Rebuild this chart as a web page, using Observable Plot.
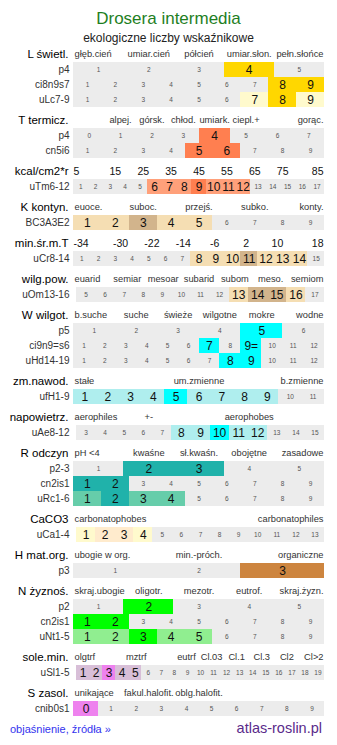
<!DOCTYPE html>
<html><head><meta charset="utf-8">
<script src="https://cdn.jsdelivr.net/npm/d3@7"></script>
<script src="https://cdn.jsdelivr.net/npm/@observablehq/plot@0.6"></script>
<style>
body{margin:0;background:#fff;font-family:"Liberation Sans",Arial,sans-serif;}
#wrap{position:relative;width:337px;height:745px;overflow:hidden;}
#title{position:absolute;left:0;top:7px;width:337px;text-align:center;font-size:17px;line-height:24px;color:#1f7f1f;}
#sub{position:absolute;left:0;top:30px;width:337px;text-align:center;font-size:12px;line-height:16px;color:#222;}
#chart{position:absolute;left:0;top:40px;}
#link{position:absolute;left:10px;top:721px;font-size:11px;line-height:16px;color:#3333ee;}
#site{position:absolute;right:15px;top:718px;font-size:14.5px;line-height:20px;color:#5a2a8a;}
</style></head>
<body><div id="wrap">
<div id="title">Drosera intermedia</div>
<div id="sub">ekologiczne liczby wskaźnikowe</div>
<div id="chart"></div>
<div id="link">objaśnienie, źródła »</div>
<div id="site">atlas-roslin.pl</div>
</div>
<script>
// ---- data ----
const sectionTitles = ["L świetl.", "T termicz.", "kcal/cm2*r", "K kontyn.", "min.śr.m.T", "wilg.pow.",
  "W wilgot.", "zm.nawod.", "napowietrz.", "R odczyn", "CaCO3", "H mat.org.", "N żyznoś.", "sole.min.", "S zasol."];
const sectionScales = [
  ["głęb.cień","umiar.cień","półcień","umiar.słon.","pełn.słońce"],
  ["","alpej.","górsk.","chłod.","umiark.","ciepl.+","","gorąc."],
  ["5","15","25","35","45","55","65","75","85"],
  ["euoce.","","suboc.","","przejś.","","subko.","","konty."],
  ["-34","-30","-22","-14","-6","2","10","18"],
  ["euarid","semiar","mesoar","subarid","subom","meso.","semiom"],
  ["b.suche","suche","świeże","wilgotne","mokre","wodne"],
  ["stałe","","um.zmienne","","b.zmienne"],
  ["aerophiles","+-","","aerophobes",""],
  ["pH <4","kwaśne","sł.kwaśn.","obojętne","zasadowe"],
  ["carbonatophobes","carbonatophiles"],
  ["ubogie w org.","min.-próch.","organiczne"],
  ["skraj.ubogie","oligotr.","mezotr.","eutrof.","skraj.żyzn."],
  ["olgtrf","","mztrf","","eutrf","Cl.03","Cl.1","Cl.3","Cl2","Cl>2"],
  ["unikające","fakul.halofit.","oblg.halofit.","",""]
];
const numericScaleSections = [2, 4];

const rowNames   = ["p4","ci8n9s7","uLc7-9", "p4","cn5i6", "uTm6-12", "BC3A3E2", "uCr8-14", "uOm13-16",
  "p5","ci9n9=s6","uHd14-19", "ufH1-9", "uAe8-12", "p2-3","cn2is1","uRc1-6", "uCa1-4", "p3",
  "p2","cn2is1","uNt1-5", "uSl1-5", "cnib0s1"];
const rowSection = [0,0,0, 1,1, 2, 3, 4, 5, 6,6,6, 7, 8, 9,9,9, 10, 11, 12,12,12, 13, 14];
const rowFirst   = [1,1,1, 0,1, 1, 1, 1, 5, 1,1,1, 1, 3, 1,1,1, 1, 1, 1,1,1, 1, 0];
const rowLast    = [5,9,9, 7,9, 17, 9, 15, 17, 6,12,12, 11, 15, 5,9,9, 13, 3, 5,9,9, 19, 9];
const rowStrong  = [[4],[8,9],[8], [4],[5,6], [9], [3], [11], [14,15], [5],[7,9],[8,9], [5], [10],
  [2,3],[1,2],[2], [2,3], [3], [2],[1,2],[3], [3], [0]];
const rowWeak    = [[],[],[7,9], [],[], [6,7,8,10,11,12], [1,2,4,5], [8,9,10,12,13,14], [13,16], [],[],[],
  [1,2,3,4,6,7,8,9], [8,9,11,12], [],[],[1,3,4], [1,4], [], [],[],[1,2,4,5], [1,2,4,5], []];
const specialLabelRow = ["ci9n9=s6"];
const specialLabelValue = [9];
const specialLabelText = ["9="];

// ---- styles ----
const strongColors = ["#FFD700","#FF7F50","#FF7F50","#D2B48C","#D2B48C","#D2B48C","#00FFFF","#00FFFF","#00FFFF",
  "#20B2AA","#FFEBCD","#CD853F","#00FF00","#EE82EE","#EE82EE"];
const weakColors = ["#FFFACD","#FFA07A","#FFA07A","#F5DEB3","#F5DEB3","#F5DEB3","#AFEEEE","#AFEEEE","#AFEEEE",
  "#66CDAA","#FFFACD","#FFFACD","#90EE90","#D8BFD8","#D8BFD8"];
const GREY = "#ececec";
const rowInset = {"uOm13-16": 0.012, "uAe8-12": 0.012, "uCa1-4": 0.012, "uSl1-5": 0.012};
const HEAD = 21, ROW = 15, TOP = 1, H = 678;

// ---- layout ----
const bgs = [], cells = [], bigText = [], smallText = [], rowLabels = [], secLabels = [], catLabels = [];
let y = TOP;
sectionTitles.forEach((title, s) => {
  const head = y;
  secLabels.push({x: 0, y: head + 13, text: title});
  const sc = sectionScales[s], n = sc.length;
  sc.forEach((t, i) => {
    if (!t) return;
    const anchor = i === 0 ? "start" : i === n - 1 ? "end" : "middle";
    catLabels.push({x: anchor === "start" ? 0 : anchor === "end" ? 1 : (i + 0.5) / n, y: head + 13, text: t,
      anchor, tick: numericScaleSections.includes(s)});
  });
  y += HEAD;
  rowNames.forEach((name, r) => {
    if (rowSection[r] !== s) return;
    const first = rowFirst[r], last = rowLast[r], n2 = last - first + 1;
    const x0 = rowInset[name] || 0, w = (1 - x0) / n2;
    const y1 = y, y2 = y + 14.6, yc = y + 7.5;
    bgs.push({x1: x0, x2: 1, y1, y2});
    rowLabels.push({x: 0, y: yc, text: name});
    for (let v = first; v <= last; v++) {
      const i = v - first;
      const xa = x0 + i * w, xb = x0 + (i + 1) * w;
      let fill = null;
      if (rowStrong[r].includes(v)) fill = strongColors[s];
      else if (rowWeak[r].includes(v)) fill = weakColors[s];
      let label = String(v);
      specialLabelRow.forEach((sr, k) => { if (sr === name && specialLabelValue[k] === v) label = specialLabelText[k]; });
      const t = {x: (xa + xb) / 2, y: yc, text: label};
      if (fill) { cells.push({x1: xa, x2: xb, y1, y2, fill}); bigText.push(t); }
      else smallText.push(t);
    }
    y += ROW;
  });
});

const font = "Liberation Sans, Arial, sans-serif";
const chart = Plot.plot({
  width: 337, height: H, margin: 0,
  x: {domain: [0, 1], range: [73, 324], axis: null},
  y: {domain: [0, H], range: [0, H], axis: null},
  style: {fontFamily: font, background: "transparent"},
  marks: [
    Plot.rect(bgs, {x1: "x1", x2: "x2", y1: "y1", y2: "y2", fill: GREY, shapeRendering: "crispEdges"}),
    Plot.rect(cells, {x1: "x1", x2: "x2", y1: "y1", y2: "y2", fill: d => d.fill, shapeRendering: "crispEdges"}),
    Plot.text(smallText, {x: "x", y: "y", text: "text", fontSize: 6.5, fill: "#555"}),
    Plot.text(bigText, {x: "x", y: "y", text: "text", fontSize: 12, fill: "#111"}),
    Plot.text(rowLabels, {x: "x", y: "y", text: "text", textAnchor: "end", dx: -4, fontSize: 10, fill: "#333"}),
    Plot.text(secLabels, {x: "x", y: "y", text: "text", textAnchor: "end", dx: -5, fontSize: 11.5, fill: "#000"}),
    ...["start", "middle", "end"].flatMap(a => [
      Plot.text(catLabels.filter(d => d.anchor === a && !d.tick), {x: "x", y: "y", text: "text", textAnchor: a,
        dx: a === "start" ? 1 : a === "end" ? -1 : 0, fontSize: 9.3, fill: "#333"}),
      Plot.text(catLabels.filter(d => d.anchor === a && d.tick), {x: "x", y: "y", text: "text", textAnchor: a,
        dx: a === "start" ? 0 : a === "end" ? -1 : 0, fontSize: 10.5, fill: "#111"})
    ])
  ]
});
document.getElementById("chart").appendChild(chart);
</script>
</body></html>
